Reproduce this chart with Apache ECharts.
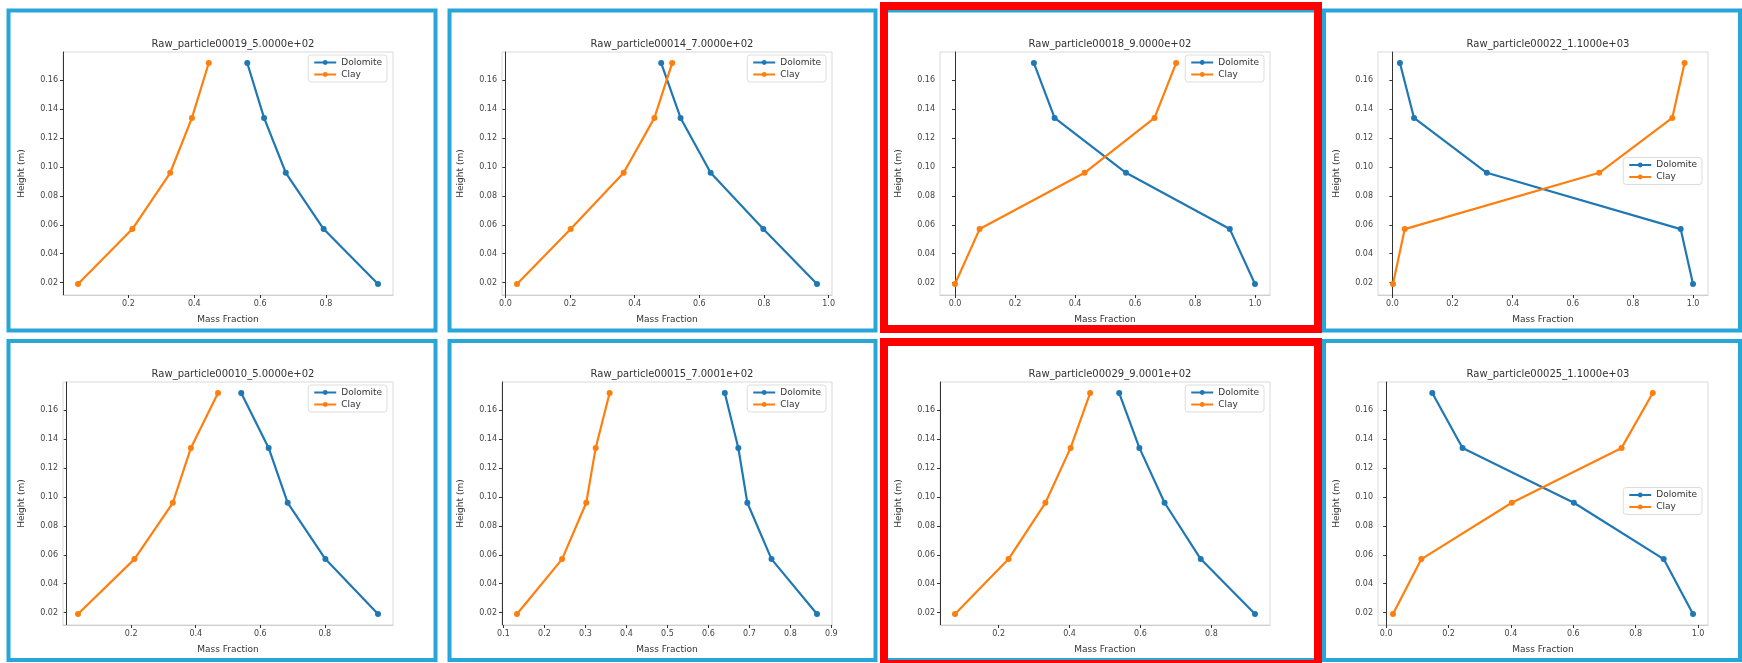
<!DOCTYPE html>
<html>
<head>
<meta charset="utf-8">
<script src="https://cdn.jsdelivr.net/npm/echarts@6/dist/echarts.min.js"></script>
<style>
html,body{margin:0;padding:0;background:#fff;}
#chart{width:1742px;height:663px;}
</style>
</head>
<body>
<div id="chart"></div>
<script>
// ---- data ----
const heights = [0.019, 0.057, 0.096, 0.134, 0.172]; // bottom -> top
const yTicks = [0.02, 0.04, 0.06, 0.08, 0.10, 0.12, 0.14, 0.16];
const seriesNames = ['Dolomite', 'Clay'];
const titles = [
  'Raw_particle00019_5.0000e+02',
  'Raw_particle00014_7.0000e+02',
  'Raw_particle00018_9.0000e+02',
  'Raw_particle00022_1.1000e+03',
  'Raw_particle00010_5.0000e+02',
  'Raw_particle00015_7.0001e+02',
  'Raw_particle00029_9.0001e+02',
  'Raw_particle00025_1.1000e+03'
];
const dolomite1 = [0.958, 0.793, 0.678, 0.612, 0.561];
const clay1     = [0.047, 0.212, 0.327, 0.393, 0.444];
const dolomite2 = [0.964, 0.798, 0.635, 0.542, 0.482];
const clay2     = [0.036, 0.202, 0.366, 0.461, 0.516];
const dolomite3 = [1.000, 0.916, 0.570, 0.332, 0.263];
const clay3     = [0.000, 0.082, 0.432, 0.665, 0.737];
const dolomite4 = [1.000, 0.959, 0.314, 0.072, 0.025];
const clay4     = [0.002, 0.041, 0.688, 0.931, 0.972];
const dolomite5 = [0.965, 0.802, 0.685, 0.626, 0.541];
const clay5     = [0.035, 0.210, 0.329, 0.385, 0.469];
const dolomite6 = [0.865, 0.754, 0.695, 0.673, 0.640];
const clay6     = [0.133, 0.243, 0.302, 0.325, 0.359];
const dolomite7 = [0.923, 0.770, 0.668, 0.597, 0.540];
const clay7     = [0.077, 0.228, 0.332, 0.403, 0.458];
const dolomite8 = [0.984, 0.890, 0.602, 0.245, 0.148];
const clay8     = [0.022, 0.113, 0.403, 0.755, 0.855];
const xTicks1 = [0.2, 0.4, 0.6, 0.8];
const xTicks2 = [0.0, 0.2, 0.4, 0.6, 0.8, 1.0];
const xTicks3 = [0.0, 0.2, 0.4, 0.6, 0.8, 1.0];
const xTicks4 = [0.0, 0.2, 0.4, 0.6, 0.8, 1.0];
const xTicks5 = [0.2, 0.4, 0.6, 0.8];
const xTicks6 = [0.1, 0.2, 0.3, 0.4, 0.5, 0.6, 0.7, 0.8, 0.9];
const xTicks7 = [0.2, 0.4, 0.6, 0.8];
const xTicks8 = [0.0, 0.2, 0.4, 0.6, 0.8, 1.0];
const legendCenterRight = [false, false, false, true, false, false, false, true];
const highlighted = [false, false, true, false, false, false, true, false];

// ---- layout ----
const panels = [
  {dol: dolomite1, clay: clay1, xt: xTicks1},
  {dol: dolomite2, clay: clay2, xt: xTicks2},
  {dol: dolomite3, clay: clay3, xt: xTicks3},
  {dol: dolomite4, clay: clay4, xt: xTicks4},
  {dol: dolomite5, clay: clay5, xt: xTicks5},
  {dol: dolomite6, clay: clay6, xt: xTicks6},
  {dol: dolomite7, clay: clay7, xt: xTicks7},
  {dol: dolomite8, clay: clay8, xt: xTicks8}
];
const W = 1742;
const gridLefts = [63, 502, 940, 1378];
const gridTops = [52, 382];
const gridW = 330, gridH = 243;
const boxX = [[8.5, 427], [449.5, 426], [886, 430], [1324, 416]];
const boxY = [[10.5, 320], [341, 319]];
const redBoxes = [[884, 6, 434, 323], [884, 342, 434, 322]];

const FONT = 'DejaVu Sans';
const BLUE = '#1f77b4', ORANGE = '#ff7f0e';

function pad(arrA, arrB) {
  const all = arrA.concat(arrB);
  const lo = Math.min.apply(null, all), hi = Math.max.apply(null, all);
  const m = (hi - lo) * 0.05;
  return [lo - m, hi + m];
}

const grid = [], xAxis = [], yAxis = [], series = [], title = [], legend = [], graphic = [];
const yr = pad(heights, heights);

panels.forEach((p, i) => {
  const row = Math.floor(i / 4), col = i % 4;
  const gl = gridLefts[col], gt = gridTops[row];
  grid.push({left: gl, top: gt, width: gridW, height: gridH,
    show: true, borderColor: '#d9d9d9', borderWidth: 1, backgroundColor: '#fff'});
  const xr = pad(p.dol, p.clay);
  xAxis.push({
    type: 'value', gridIndex: i, min: xr[0], max: xr[1],
    name: 'Mass Fraction', nameLocation: 'middle', nameGap: 20,
    nameTextStyle: {fontFamily: FONT, fontSize: 9, color: '#333'},
    axisLine: {show: true, lineStyle: {color: '#cfcfcf', width: 1}},
    axisTick: {show: true, inside: false, length: 3, customValues: p.xt, lineStyle: {color: '#333'}},
    axisLabel: {customValues: p.xt, formatter: v => v.toFixed(1), fontFamily: FONT, fontSize: 8, color: '#444', margin: 5},
    splitLine: {show: false}
  });
  yAxis.push({
    type: 'value', gridIndex: i, min: yr[0], max: yr[1],
    name: 'Height (m)', nameLocation: 'middle', nameGap: 37,
    nameTextStyle: {fontFamily: FONT, fontSize: 9, color: '#333'},
    axisLine: {show: true, lineStyle: {color: '#333', width: 1}},
    axisTick: {show: true, inside: false, length: 3, customValues: yTicks, lineStyle: {color: '#333'}},
    axisLabel: {customValues: yTicks, formatter: v => v.toFixed(2), fontFamily: FONT, fontSize: 8, color: '#444', margin: 5},
    splitLine: {show: false}
  });
  [[seriesNames[0], p.dol, BLUE], [seriesNames[1], p.clay, ORANGE]].forEach(s => {
    series.push({
      type: 'line', name: s[0], xAxisIndex: i, yAxisIndex: i,
      data: heights.map((h, k) => [s[1][k], h]),
      color: s[2], symbol: 'circle', symbolSize: 6, showAllSymbol: true,
      lineStyle: {width: 2.2, color: s[2]}, itemStyle: {color: s[2]},
      animation: false, silent: true
    });
  });
  title.push({
    text: titles[i], left: gl + gridW / 2, top: gt - 18, textAlign: 'center',
    textStyle: {fontFamily: FONT, fontSize: 10, fontWeight: 'normal', color: '#333'}
  });
  legend.push({
    data: seriesNames, orient: 'vertical',
    right: W - (gl + gridW - 6),
    top: legendCenterRight[i] ? gt + gridH / 2 - 16 : gt + 3,
    backgroundColor: '#fff', borderColor: '#ddd', borderWidth: 1, borderRadius: 3,
    padding: [3, 5], itemGap: 3, itemWidth: 22, itemHeight: 6,
    textStyle: {fontFamily: FONT, fontSize: 9, color: '#333'}
  });
  const bx = boxX[col], by = boxY[row];
  graphic.push({type: 'rect', shape: {x: bx[0], y: by[0], width: bx[1], height: by[1]},
    style: {fill: 'none', stroke: '#27a6d9', lineWidth: 4}, silent: true, z: 100});
});
redBoxes.forEach(r => {
  graphic.push({type: 'rect', shape: {x: r[0], y: r[1], width: r[2], height: r[3]},
    style: {fill: 'none', stroke: '#ff0000', lineWidth: 8}, silent: true, z: 101});
});

const chart = echarts.init(document.getElementById('chart'), null, {renderer: 'canvas'});
chart.setOption({
  backgroundColor: '#fff',
  animation: false,
  title, legend, grid, xAxis, yAxis, series, graphic
});
</script>
</body>
</html>
